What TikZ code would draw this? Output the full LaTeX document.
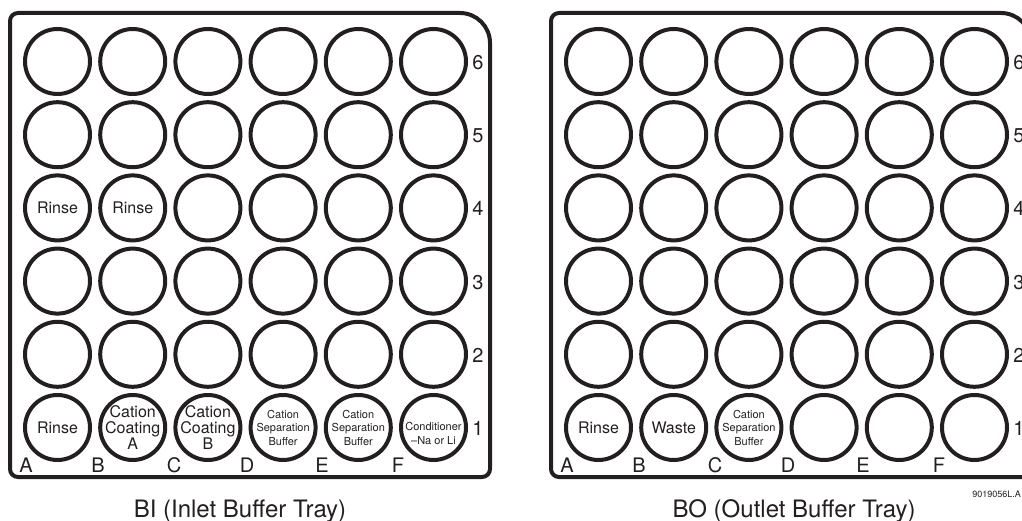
\documentclass[tikz,border=0pt]{standalone}
\usepackage{fontspec}
\setmainfont{TeX Gyre Heros}
\definecolor{ink}{RGB}{35,31,32}
\tikzset{well/.style={draw=ink, line width=4pt, circle, minimum size=65pt, inner sep=0pt},
  trayline/.style={draw=ink, line width=4pt},
  tag/.style={text=ink, font=\fontsize{20}{20}\selectfont, inner sep=0pt},
  lblbig/.style={text=ink, align=center, font=\fontsize{16}{16}\selectfont, inner sep=0pt},
  lblsmall/.style={text=ink, align=center, font=\fontsize{11}{13.5}\selectfont, inner sep=0pt},
  traycap/.style={text=ink, font=\fontsize{24}{24}\selectfont, inner sep=0pt, anchor=base}}

\begin{document}
\begin{tikzpicture}[x=1pt, y=-1pt]
  \clip (0,0) rectangle (1022,521);
  \useasboundingbox (0,0) rectangle (1022,521);
  % both trays: outline, 6x6 wells, letters and numbers
  \foreach \t/\dx in {bi/0,bo/541}{
    \begin{scope}[xshift=\dx]
      \draw[trayline] (10,300) [rounded corners=8pt] -- (10,13) -- (440,13)
        [rounded corners=30pt] -- (490,13) -- (490,80)
        [rounded corners=8pt] -- (490,477) -- (10,477) -- cycle;
      \foreach \c [count=\i from 0] in {A,B,C,D,E,F}
        \foreach \r in {1,...,6}
          \node[well] (\t\c\r) at ({57.5+75.2*\i},{427.5-73.2*(\r-1)}) {};
      \foreach \c/\x in {A/26,B/98,C/174,D/247,E/322,F/398}
        \node[tag, anchor=base] (\t-\c) at (\x,472) {\c};
      \foreach \r in {1,...,6}
        \node[tag] (\t-\r) at (478,{428.5-73.2*(\r-1)}) {\r};
    \end{scope}}
  % inlet tray contents
  \node[lblbig] (biA4t) at (biA4) {Rinse};
  \node[lblbig] (biB4t) at (biB4) {Rinse};
  \node[lblbig] (biA1t) at (biA1) {Rinse};
  \node[lblbig] (biB1t) at (biB1) {Cation\\Coating\\A};
  \node[lblbig] (biC1t) at (biC1) {Cation\\Coating\\B};
  \node[lblsmall] (biD1t) at (biD1) {Cation\\Separation\\Buffer};
  \node[lblsmall] (biE1t) at (biE1) {Cation\\Separation\\Buffer};
  \node[lblsmall, yshift=-6pt] (biF1t) at (biF1) {Conditioner\\--Na or Li};
  % outlet tray contents
  \node[lblbig] (boA1t) at (boA1) {Rinse};
  \node[lblbig] (boB1t) at (boB1) {Waste};
  \node[lblsmall] (boC1t) at (boC1) {Cation\\Separation\\Buffer};
  % captions
  \node[traycap] (bicap) at (240,517) {BI (Inlet Buffer Tray)};
  \node[traycap] (bocap) at (794,517) {BO (Outlet Buffer Tray)};
  \node[text=ink, font=\fontsize{9}{9}\selectfont, anchor=base east, inner sep=0pt] (figno) at (1021,497) {9019056L.A};
\end{tikzpicture}
\end{document}
